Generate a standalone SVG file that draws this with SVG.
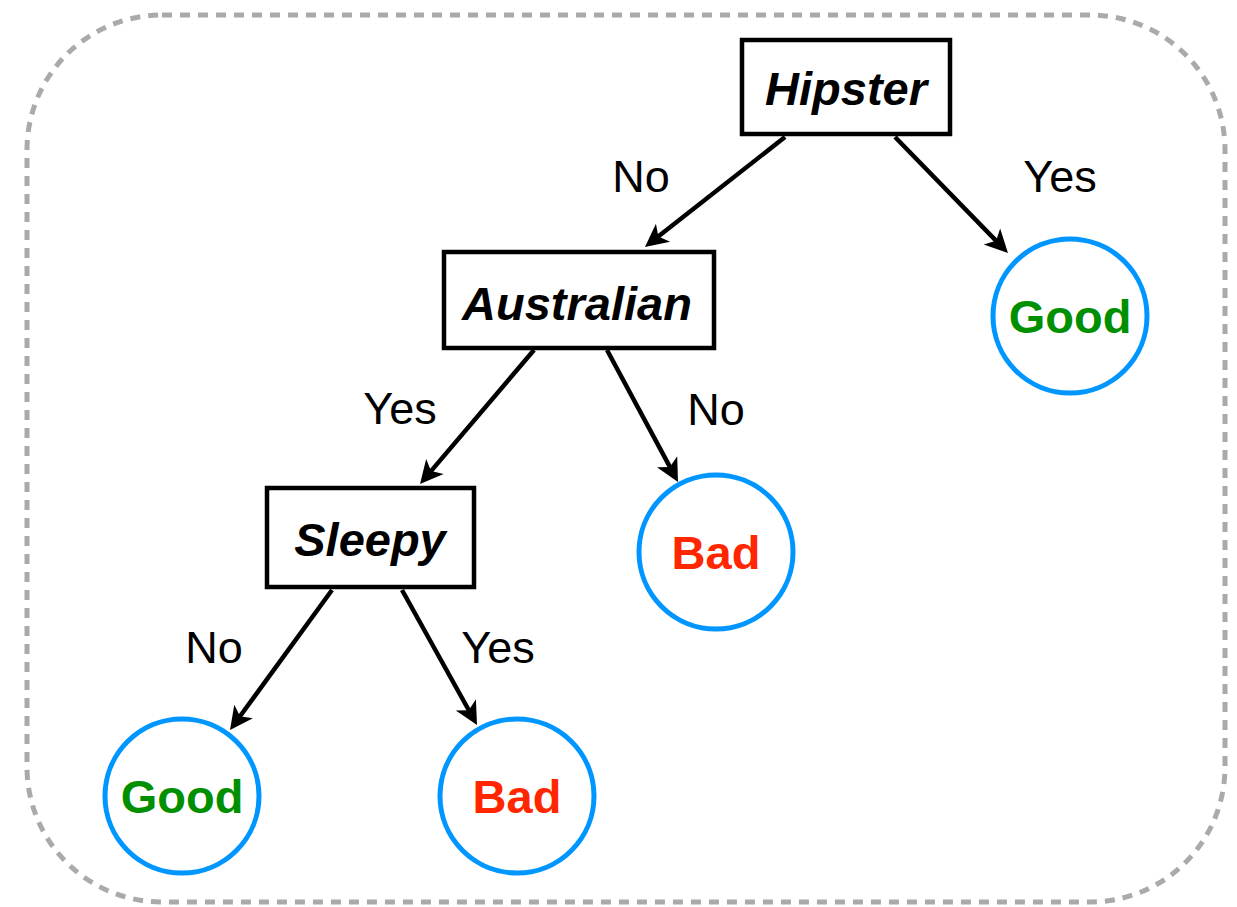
<svg xmlns="http://www.w3.org/2000/svg" width="1237" height="907" viewBox="0 0 1237 907">
<style>
.frame{fill:none;stroke:#aaaaaa;stroke-width:5;stroke-dasharray:10 8}
.box{fill:#fff;stroke:#000;stroke-width:4.5}
.leaf{fill:#fff;stroke:#0096ff;stroke-width:5}
.nt{font-family:"Liberation Sans",Arial,sans-serif;font-weight:bold;font-style:italic;font-size:47px;text-anchor:middle;fill:#000}
.lt{font-family:"Liberation Sans",Arial,sans-serif;font-weight:bold;font-size:47px;text-anchor:middle}
.good{fill:#008f00}
.bad{fill:#ff2600}
.el{font-family:"Liberation Sans",Arial,sans-serif;font-size:45px;text-anchor:middle;fill:#000}
.edge{fill:none;stroke:#000;stroke-width:4.5;marker-end:url(#arr)}
</style>
<defs>
<marker id="arr" markerUnits="userSpaceOnUse" orient="auto" refX="0" refY="0" markerWidth="40" markerHeight="40" overflow="visible">
<path d="M12,0 L-11,-11.5 L-5,0 L-11,11.5 Z" fill="#000"/>
</marker>
</defs>
<rect class="frame" x="27" y="15" width="1198" height="887" rx="135" ry="135"/>
<g id="connectors">
<line class="edge" x1="785" y1="137" x2="654.4" y2="239.6"/>
<line class="edge" x1="895" y1="137" x2="999.6" y2="244.4"/>
<line class="edge" x1="534" y1="350" x2="427.8" y2="474.9"/>
<line class="edge" x1="607" y1="350" x2="672.3" y2="471.4"/>
<line class="edge" x1="332" y1="590" x2="237.1" y2="720.3"/>
<line class="edge" x1="402" y1="590" x2="471.2" y2="714.5"/>
<text class="el" x="641" y="192">No</text>
<text class="el" x="1060" y="192">Yes</text>
<text class="el" x="400" y="424">Yes</text>
<text class="el" x="716" y="425">No</text>
<text class="el" x="214" y="663">No</text>
<text class="el" x="498" y="663">Yes</text>
</g>
<g id="hipster">
<rect class="box" x="742" y="40" width="208" height="94"/>
<text class="nt" x="846" y="105">Hipster</text>
</g>
<g id="australian">
<rect class="box" x="444" y="252" width="270" height="96"/>
<text class="nt" x="577" y="320">Australian</text>
</g>
<g id="sleepy">
<rect class="box" x="267" y="488" width="207" height="99"/>
<text class="nt" x="370" y="556">Sleepy</text>
</g>
<g id="good-top">
<circle class="leaf" cx="1070" cy="316" r="77"/>
<text class="lt good" x="1070" y="333">Good</text>
</g>
<g id="bad-mid">
<circle class="leaf" cx="716" cy="552" r="77"/>
<text class="lt bad" x="716" y="569">Bad</text>
</g>
<g id="good-bottom">
<circle class="leaf" cx="182" cy="796" r="77"/>
<text class="lt good" x="182" y="813">Good</text>
</g>
<g id="bad-bottom">
<circle class="leaf" cx="517" cy="796" r="77"/>
<text class="lt bad" x="517" y="813">Bad</text>
</g>
</svg>
